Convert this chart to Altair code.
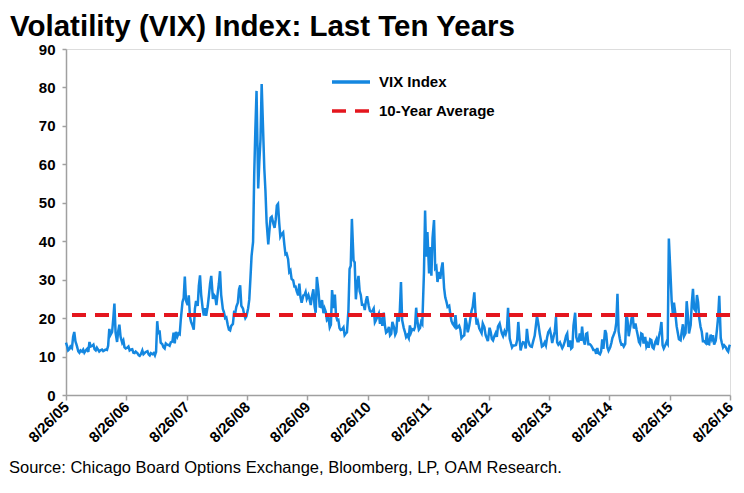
import altair as alt
import pandas as pd

# Weekly-ish VIX closes (4 samples per month, Sep -> Aug)
sample_days = [1, 8, 15, 22]
start_date, start_value = "2005-08-26", 13.6
end_date, end_value = "2016-08-26", 13.1

vix_2005_06 = [12.8, 11.6, 11.9, 12.6, 12.2, 15.1, 16.4, 14.0, 12.6, 11.4, 11.0, 11.6,
               11.3, 11.8, 11.0, 11.5, 12.0, 11.2, 13.8, 12.6, 12.8, 13.1, 11.9, 11.6,
               12.3, 11.8, 11.3, 11.6, 11.8, 11.4, 11.6, 11.8, 11.7, 12.8, 17.2, 15.6,
               16.4, 19.8, 23.8, 16.2, 13.8, 16.6, 18.3, 15.2, 13.6, 14.2, 12.4, 12.1]
vix_2006_07 = [12.3, 12.6, 11.6, 11.8, 11.9, 11.0, 10.9, 11.3, 10.9, 10.4, 10.2, 10.6,
               11.6, 10.6, 10.9, 11.2, 11.4, 10.6, 10.3, 10.9, 10.6, 10.9, 10.3, 11.2,
               19.2, 15.8, 16.8, 13.6, 13.2, 12.4, 12.1, 13.4, 13.1, 13.0, 12.8, 13.7,
               13.9, 16.2, 13.4, 16.4, 15.2, 16.0, 15.8, 19.8, 24.2, 25.2, 30.8, 24.6]
vix_2007_08 = [23.4, 25.9, 20.4, 19.0, 18.0, 17.0, 22.4, 24.5, 23.2, 28.5, 31.1, 26.0,
               22.5, 20.7, 22.6, 20.6, 23.2, 26.0, 29.0, 31.0, 25.0, 26.0, 25.6, 23.4,
               26.5, 29.0, 32.2, 26.0, 22.4, 21.5, 20.0, 20.2, 18.2, 17.0, 16.8, 18.0,
               18.5, 21.5, 21.3, 23.0, 24.0, 27.5, 28.5, 23.2, 22.5, 21.0, 20.0, 20.5]
vix_2008_09 = [22.5, 24.8, 30.3, 36.2, 39.8, 57.5, 69.3, 79.1, 53.7, 60.8, 66.5, 80.9,
               68.5, 58.9, 53.0, 44.9, 39.2, 42.8, 46.1, 46.4, 44.5, 43.5, 45.6, 49.3,
               49.7, 44.9, 41.2, 41.8, 42.3, 39.2, 36.6, 36.8, 35.3, 32.0, 32.4, 30.2,
               29.8, 28.2, 28.2, 27.0, 25.9, 29.0, 25.4, 24.0, 25.9, 26.0, 26.8, 25.0]
vix_2009_10 = [26.0, 24.9, 23.4, 25.6, 27.5, 23.1, 21.4, 30.7, 27.0, 23.0, 22.9, 24.7,
               21.3, 22.5, 21.6, 19.5, 20.0, 17.6, 18.3, 27.3, 22.6, 26.1, 20.6, 19.5,
               19.6, 17.4, 16.9, 17.0, 17.6, 15.6, 16.0, 16.3, 22.0, 32.8, 33.6, 45.8,
               35.0, 34.5, 24.9, 28.5, 31.0, 27.0, 26.0, 23.5, 23.5, 22.1, 24.5, 25.7]
vix_2010_11 = [23.2, 21.9, 21.7, 21.8, 22.5, 18.9, 19.5, 20.2, 21.2, 18.5, 20.2, 18.0,
               21.4, 18.0, 16.2, 16.5, 17.7, 15.5, 15.9, 19.0, 17.6, 15.7, 16.4, 20.8,
               19.1, 21.9, 29.4, 19.5, 17.4, 16.4, 15.1, 15.6, 14.8, 18.1, 16.3, 17.1,
               16.9, 17.7, 22.7, 19.3, 17.0, 17.4, 19.0, 18.5, 31.7, 48.0, 36.0, 42.4]
vix_2011_12 = [31.6, 38.5, 31.0, 40.8, 45.5, 33.0, 33.4, 29.4, 32.0, 30.2, 32.9, 34.5,
               27.8, 25.4, 24.3, 22.9, 23.2, 21.0, 19.2, 18.5, 17.9, 20.8, 17.4, 17.6,
               18.0, 17.1, 14.8, 15.2, 15.5, 20.0, 18.6, 16.3, 18.0, 19.9, 21.9, 22.9,
               26.7, 21.2, 18.3, 19.1, 17.3, 16.7, 16.1, 18.6, 17.6, 15.6, 14.8, 14.0]
vix_2012_13 = [17.5, 16.4, 14.6, 14.2, 15.4, 16.1, 15.1, 17.8, 18.6, 17.2, 16.0, 15.3,
               16.6, 15.9, 17.0, 22.7, 14.7, 13.5, 12.4, 12.9, 12.9, 13.0, 14.3, 19.0,
               14.9, 11.6, 12.9, 13.7, 13.6, 12.1, 17.2, 14.3, 13.0, 12.6, 12.5, 13.8,
               15.4, 17.9, 20.5, 18.9, 16.1, 14.4, 12.6, 12.8, 13.7, 12.9, 14.9, 16.3]
vix_2013_14 = [17.0, 15.6, 13.5, 14.9, 16.6, 20.3, 13.7, 13.1, 13.7, 12.9, 12.2, 12.8,
               14.0, 15.4, 16.0, 12.5, 14.2, 12.1, 12.4, 18.1, 21.4, 15.0, 14.0, 14.0,
               16.0, 14.1, 17.8, 14.5, 13.1, 15.9, 16.1, 13.2, 13.2, 12.9, 12.4, 11.7,
               11.7, 10.7, 12.2, 10.9, 10.6, 11.3, 14.5, 12.0, 16.9, 16.0, 12.4, 11.5]
vix_2014_15 = [12.4, 13.5, 14.9, 15.6, 16.7, 18.8, 26.3, 16.5, 14.0, 13.1, 13.2, 12.6,
               13.3, 21.1, 19.4, 15.3, 17.8, 19.9, 20.9, 17.3, 18.6, 16.9, 15.5, 13.8,
               13.3, 16.0, 15.8, 13.4, 15.1, 12.6, 13.3, 12.3, 14.5, 14.3, 12.4, 12.1,
               13.8, 14.5, 13.0, 15.0, 16.8, 19.0, 13.0, 12.1, 13.0, 13.8, 13.3, 40.7]
vix_2015_16 = [31.4, 24.4, 21.1, 24.0, 20.9, 17.9, 16.2, 14.5, 14.2, 16.5, 18.4, 15.3,
               16.1, 24.4, 20.7, 16.0, 18.2, 24.0, 27.6, 22.4, 21.8, 26.0, 24.1, 20.0,
               17.7, 16.5, 14.0, 14.0, 13.5, 16.2, 13.3, 13.2, 15.7, 14.6, 15.6, 13.1,
               14.2, 17.0, 20.1, 25.8, 14.8, 13.5, 12.4, 12.9, 12.4, 11.7, 11.3, 12.7]

ten_year_average = 20.8
series_names = ["VIX Index", "10-Year Average"]
year_ticks = [2005, 2006, 2007, 2008, 2009, 2010, 2011, 2012, 2013, 2014, 2015, 2016]
y_ticks = [0, 10, 20, 30, 40, 50, 60, 70, 80, 90]
title_text = "Volatility (VIX) Index: Last Ten Years"
source_text = "Source:  Chicago Board Options Exchange, Bloomberg, LP, OAM Research."

blocks = [vix_2005_06, vix_2006_07, vix_2007_08, vix_2008_09, vix_2009_10, vix_2010_11,
          vix_2011_12, vix_2012_13, vix_2013_14, vix_2014_15, vix_2015_16]

dates, values = [start_date], [start_value]
for i, block in enumerate(blocks):
    y0 = 2005 + i
    k = 0
    for m in range(12):
        month = (8 + m) % 12 + 1
        year = y0 if month >= 9 else y0 + 1
        for d in sample_days:
            dates.append(f"{year:04d}-{month:02d}-{d:02d}")
            values.append(block[k])
            k += 1
dates.append(end_date)
values.append(end_value)

vix_df = pd.DataFrame({"date": dates, "value": values, "series": series_names[0]})
avg_df = pd.DataFrame({"value": [ten_year_average], "series": [series_names[1]]})
src_df = pd.DataFrame({"t": [source_text]})
ttl_df = pd.DataFrame({"t": [title_text]})

FONT = "Liberation Sans, Arial, sans-serif"
blue = "#1487E0"
red = "#E4161E"
color_scale = alt.Scale(domain=series_names, range=[blue, red])
dash_scale = alt.Scale(domain=series_names, range=[[1, 0], [14, 9]])
y_scale = alt.Scale(domain=[0, 90], nice=False)

tick_vals = [alt.DateTime(year=y, month=8, date=26, utc=True) for y in year_ticks]

y_axis = alt.Axis(values=y_ticks, grid=False,
                  labelFont=FONT, labelFontWeight="bold",
                  labelFontSize=15, labelColor="black", labelPadding=7,
                  labelOverlap=False, labelFlush=False,
                  domainColor="#A0A0A0", domainWidth=1.5,
                  tickColor="#A0A0A0", tickSize=4, tickWidth=1.5)

legend = alt.Legend(
    title=None, orient="none", legendX=264, legendY=12,
    symbolType="stroke", symbolSize=1444, symbolStrokeWidth=3.5,
    labelFont=FONT, labelFontWeight="bold", labelFontSize=15,
    labelColor="black", rowPadding=-3, labelOffset=7,
)

line = alt.Chart(vix_df).mark_line(strokeWidth=2.5, interpolate="linear").encode(
    x=alt.X("date:T", title=None,
            scale=alt.Scale(type="utc", domain=[alt.DateTime(year=2005, month=8, date=26, utc=True),
                                                 alt.DateTime(year=2016, month=8, date=26, utc=True)]),
            axis=alt.Axis(values=tick_vals,
                          labelExpr="utcFormat(datum.value, '%-m/%-d/%y')",
                          labelAngle=-45, labelAlign="right", labelBaseline="middle",
                          labelFont=FONT, labelFontWeight="bold",
                          labelFontSize=15, labelColor="black", labelPadding=4,
                          grid=False, domainColor="#A0A0A0", domainWidth=1.5,
                          tickColor="#A0A0A0", tickSize=5, tickWidth=1.5,
                          labelOverlap=False, labelBound=False, labelFlush=False)),
    y=alt.Y("value:Q", title=None, scale=y_scale, axis=y_axis),
    color=alt.Color("series:N", scale=color_scale, legend=legend),
    strokeDash=alt.StrokeDash("series:N", scale=dash_scale, legend=legend),
)

avg = alt.Chart(avg_df).mark_rule(strokeWidth=4).encode(
    y=alt.Y("value:Q", title=None, scale=y_scale, axis=y_axis),
    color=alt.Color("series:N", scale=color_scale, legend=legend),
    strokeDash=alt.StrokeDash("series:N", scale=dash_scale, legend=legend),
)

src = alt.Chart(src_df).mark_text(align="left", baseline="alphabetic", fontSize=16.5,
                                  font=FONT, color="black").encode(
    text="t:N", x=alt.value(-57), y=alt.value(424))

ttl = alt.Chart(ttl_df).mark_text(align="left", baseline="alphabetic", fontSize=29.5,
                                  font=FONT, fontWeight="bold", color="black").encode(
    text="t:N", x=alt.value(-56), y=alt.value(-13))

chart = alt.layer(line, avg, src, ttl).properties(
    width=664, height=346,
    padding={"left": 58, "top": 41, "right": 6, "bottom": 85},
    autosize=alt.AutoSizeParams(type="none"),
).configure_view(stroke=None).configure(background="white")

chart.save("out.html", embed_options={"renderer": "svg", "actions": False})
